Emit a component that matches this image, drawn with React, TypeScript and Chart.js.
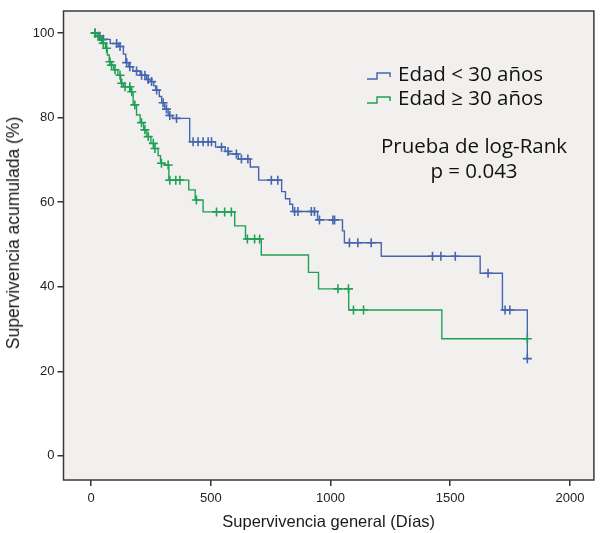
import React, { useEffect, useRef } from "react";
import { Chart, registerables } from "chart.js";

Chart.register(...registerables);

// Axis ticks
const xTicks = [0, 500, 1000, 1500, 2000];
const yTicks = [0, 20, 40, 60, 80, 100];

// Kaplan-Meier steps: Edad < 30 años
const blueStepTimes = [0, 30, 45, 80, 115, 135, 145, 158, 175, 205, 232, 250, 262, 270, 285, 295, 308, 322, 340, 412, 520, 560, 575, 615, 665, 700, 796, 812, 830, 842, 946, 1050, 1058, 1212, 1625, 1718, 1822];
const blueStepSurv = [100, 99.2, 98.5, 97.5, 96.8, 95, 93, 92, 91, 90, 89, 88.5, 87.5, 86.5, 85, 83.5, 82, 80.5, 79.8, 74.3, 73, 72, 71.4, 70.2, 68.3, 65.2, 62.5, 60.8, 59.5, 57.8, 55.8, 53.2, 50.4, 47.2, 43.2, 34.5, 23];
const blueCensorTimes = [17, 37, 51, 107, 121, 149, 162, 190, 211, 225, 239, 253, 274, 301, 315, 329, 357, 426, 447, 468, 489, 503, 545, 572, 607, 628, 655, 753, 780, 850, 864, 920, 933, 954, 1010, 1017, 1079, 1114, 1170, 1426, 1461, 1521, 1658, 1729, 1749, 1822];

// Kaplan-Meier steps: Edad ≥ 30 años
const greenStepTimes = [0, 20, 38, 50, 60, 68, 76, 85, 95, 112, 124, 135, 166, 176, 190, 205, 220, 233, 250, 262, 280, 290, 305, 325, 408, 435, 468, 600, 645, 711, 908, 950, 1076, 1465, 1822];
const greenStepSurv = [100, 99.2, 98.4, 97.6, 96.4, 94.8, 93.2, 92.4, 91.3, 90, 88.1, 87.3, 86.1, 83, 80.6, 78.8, 77.1, 75.5, 73.9, 72.7, 71, 69.2, 68.8, 65.2, 62.9, 60.5, 57.7, 54.4, 51.3, 47.5, 43.4, 39.5, 34.5, 27.7, 27.7];
const greenCensorTimes = [17, 30, 44, 51, 65, 79, 86, 100, 121, 128, 142, 162, 170, 183, 211, 225, 239, 260, 267, 294, 322, 329, 354, 371, 440, 524, 558, 586, 653, 683, 704, 1031, 1075, 1096, 1138, 1822];

const seriesLabels = ["Edad < 30 años", "Edad ≥ 30 años"];
const xTitle = "Supervivencia general (Días)";
const yTitle = "Supervivencia acumulada (%)";
const BLUE = "#4565ae";
const GREEN = "#20a054";

function survAt(times: number[], surv: number[], t: number) {
  let s = surv[0];
  for (let i = 0; i < times.length; i++) if (times[i] <= t) s = surv[i];
  return s;
}

const plotFrame = {
  id: "plotFrame",
  beforeDatasetsDraw(chart: any) {
    const { ctx, chartArea } = chart;
    ctx.save();
    ctx.fillStyle = "#f1f0ee";
    ctx.fillRect(chartArea.left, chartArea.top, chartArea.right - chartArea.left, chartArea.bottom - chartArea.top);
    ctx.strokeStyle = "#3a3a3a";
    ctx.lineWidth = 1.5;
    ctx.strokeRect(chartArea.left, chartArea.top, chartArea.right - chartArea.left, chartArea.bottom - chartArea.top);
    ctx.restore();
  },
};

function StepIcon({ color }: { color: string }) {
  return (
    <svg width="26" height="10" style={{ display: "inline-block", verticalAlign: "middle", marginRight: 6 }}>
      <path d="M1 8 H11 V2 H24 V6" fill="none" stroke={color} strokeWidth="1.5" />
    </svg>
  );
}

export default function App() {
  const ref = useRef<HTMLCanvasElement | null>(null);
  useEffect(() => {
    if (!ref.current) return;
    const tickFont = { family: "'Liberation Sans', Arial, sans-serif", size: 13 };
    const titleFont = { family: "'Liberation Sans', Arial, sans-serif", size: 16.5 };
    const chart = new Chart(ref.current, {
      type: "line",
      data: {
        datasets: [
          {
            type: "scatter",
            label: "c2",
            data: greenCensorTimes.map((t) => ({ x: t, y: survAt(greenStepTimes, greenStepSurv, t) })),
            pointStyle: "cross",
            pointRadius: 4.5,
            borderColor: GREEN,
            backgroundColor: GREEN,
            borderWidth: 1.6,
            showLine: false,
          } as any,
          {
            label: seriesLabels[1],
            data: greenStepTimes.map((t, i) => ({ x: t, y: greenStepSurv[i] })),
            stepped: "before",
            borderColor: GREEN,
            borderWidth: 1.4,
            pointRadius: 0,
            fill: false,
          },
          {
            type: "scatter",
            label: "c1",
            data: blueCensorTimes.map((t) => ({ x: t, y: survAt(blueStepTimes, blueStepSurv, t) })),
            pointStyle: "cross",
            pointRadius: 4.5,
            borderColor: BLUE,
            backgroundColor: BLUE,
            borderWidth: 1.6,
            showLine: false,
          } as any,
          {
            label: seriesLabels[0],
            data: blueStepTimes.map((t, i) => ({ x: t, y: blueStepSurv[i] })),
            stepped: "before",
            borderColor: BLUE,
            borderWidth: 1.4,
            pointRadius: 0,
            fill: false,
          },
        ],
      },
      options: {
        animation: false,
        responsive: true,
        maintainAspectRatio: false,
        layout: { padding: { top: 11, right: 5, left: 0, bottom: 0 } },
        plugins: { legend: { display: false }, tooltip: { enabled: false } },
        scales: {
          x: {
            type: "linear",
            min: -115,
            max: 2100,
            afterBuildTicks: (s: any) => {
              s.ticks = xTicks.map((v) => ({ value: v }));
            },
            afterFit: (s: any) => {
              s.height = 53;
            },
            grid: { drawOnChartArea: false, drawTicks: true, tickLength: 6, color: "#333", lineWidth: 1.5 },
            border: { display: false },
            ticks: { callback: (v: any) => String(v), color: "#222", font: tickFont, padding: 4.5, maxRotation: 0 },
            title: { display: true, text: xTitle, color: "#1a1a1a", font: titleFont, padding: { top: 0, bottom: 0.5 } },
          },
          y: {
            type: "linear",
            min: -5.7,
            max: 105.2,
            afterBuildTicks: (s: any) => {
              s.ticks = yTicks.map((v) => ({ value: v }));
            },
            afterFit: (s: any) => {
              s.width = 63.5;
            },
            grid: { drawOnChartArea: false, drawTicks: true, tickLength: 6, color: "#333", lineWidth: 1.5 },
            border: { display: false },
            ticks: { callback: (v: any) => String(v), color: "#222", font: tickFont, padding: 3 },
          },
        },
      },
      plugins: [plotFrame],
    });
    return () => chart.destroy();
  }, []);

  const textFont = "'Open Sans', 'Noto Sans', sans-serif";
  return (
    <div style={{ position: "absolute", left: 0, top: 0, width: 600, height: 533, background: "#fff" }}>
      <canvas ref={ref} />
      <div
        style={{
          position: "absolute",
          left: 13,
          top: 233,
          transform: "translate(-50%, -50%) rotate(-90deg)",
          fontFamily: "'Liberation Sans', Arial, sans-serif",
          fontSize: 17.5,
          color: "#1a1a1a",
          whiteSpace: "nowrap",
          lineHeight: "20px",
        }}
      >
        {yTitle}
      </div>
      <div style={{ position: "absolute", left: 366, top: 61, fontFamily: textFont, fontSize: 20.5, color: "#111", lineHeight: "24px", whiteSpace: "nowrap" }}>
        <div>
          <StepIcon color={BLUE} />
          {seriesLabels[0]}
        </div>
        <div>
          <StepIcon color={GREEN} />
          {seriesLabels[1]}
        </div>
      </div>
      <div style={{ position: "absolute", left: 364, width: 220, top: 133, fontFamily: textFont, fontSize: 20.5, color: "#111", lineHeight: "25px", textAlign: "center", whiteSpace: "nowrap" }}>
        <div>Prueba de log-Rank</div>
        <div>p = 0.043</div>
      </div>
    </div>
  );
}
